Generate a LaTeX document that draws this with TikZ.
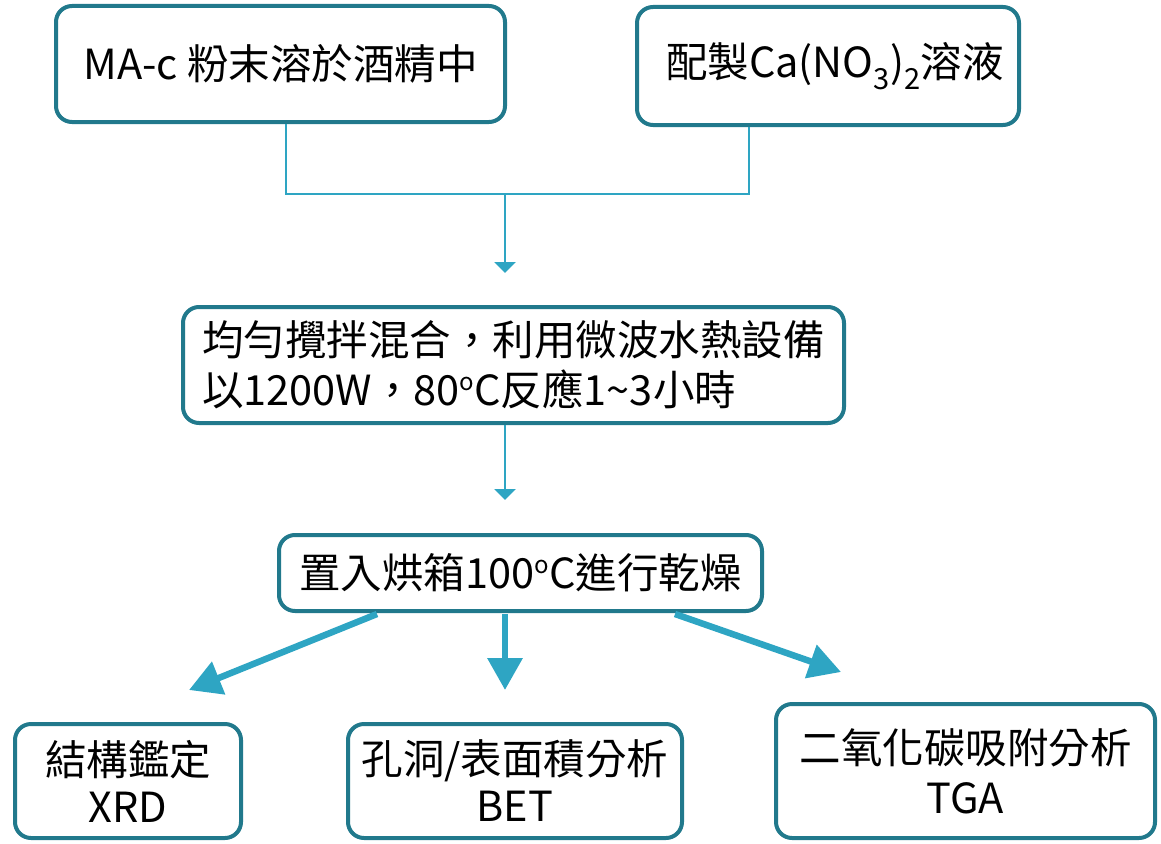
\documentclass[tikz,border=0pt]{standalone}
\usepackage{fontspec}
\setmainfont{Noto Sans CJK TC}
\usetikzlibrary{arrows.meta}
\definecolor{boxc}{RGB}{33,121,140}
\definecolor{linec}{RGB}{46,165,195}
\tikzset{
  box/.style={draw=boxc, line width=4pt, rounded corners=16pt, fill=white,
    inner sep=0pt, font=\fontsize{41.5}{50}\selectfont, align=center},
  thin/.style={draw=linec, line width=2.2pt},
  thinarrow/.style={thin, -{Triangle[width=21pt,length=11pt]}},
  bigarrow/.style={draw=linec, line width=6.5pt, -{Triangle[width=34pt,length=32pt]}},
}
\newcommand{\degc}{\raisebox{15pt}{\fontsize{24}{24}\selectfont o}C}
\begin{document}
\begin{tikzpicture}[x=1pt,y=-1pt]
\useasboundingbox (0,0) rectangle (1161,843);
\node[box, minimum width=449pt, minimum height=116pt] (b1) at (280.5,64) {MA-c 粉末溶於酒精中};
\node[box, minimum width=382pt, minimum height=118pt] (b2) at (828,66) {\hspace*{14pt}配製Ca(NO\textsubscript{3})\textsubscript{2}溶液};
\node[box, minimum width=661pt, minimum height=116pt, align=left] (b3) at (513.5,365)
  {均勻攪拌混合，利用微波水熱設備\\以1200W，80\degc 反應1\textasciitilde 3小時};
\node[box, minimum width=483pt, minimum height=76pt] (b4) at (520.5,573) {置入烘箱100\degc 進行乾燥};
\node[box, minimum width=226pt, minimum height=114pt, font=\fontsize{41.5}{47}\selectfont] (b5) at (128,781) {結構鑑定\\XRD};
\node[box, minimum width=334pt, minimum height=114pt, font=\fontsize{41.5}{47}\selectfont] (b6) at (515,781) {孔洞/表面積分析\\BET};
\node[box, minimum width=379pt, minimum height=134pt, font=\fontsize{41.5}{50}\selectfont] (b7) at (965.5,771) {二氧化碳吸附分析\\TGA};

\coordinate (j1) at (286,194);
\coordinate (j2) at (749,194);
\coordinate (jm) at (505,194);
\coordinate (t1) at (505,273);
\coordinate (t2) at (505,500);
\coordinate (t3) at (189,690);
\coordinate (t4) at (505,690);
\coordinate (t5) at (841,672);

\draw[thin] ([xshift=5.5pt]b1.south) -- (j1) -- (j2) -- ([xshift=-79pt]b2.south);
\draw[thinarrow] (jm) -- (t1);
\draw[thinarrow] ([xshift=-8.5pt]b3.south) -- (t2);
\draw[bigarrow] ([xshift=-143.5pt,yshift=-1pt]b4.south) -- (t3);
\draw[bigarrow] ([xshift=-15.5pt,yshift=-1pt]b4.south) -- (t4);
\draw[bigarrow] ([xshift=154.5pt,yshift=-1pt]b4.south) -- (t5);
\end{tikzpicture}
\end{document}
